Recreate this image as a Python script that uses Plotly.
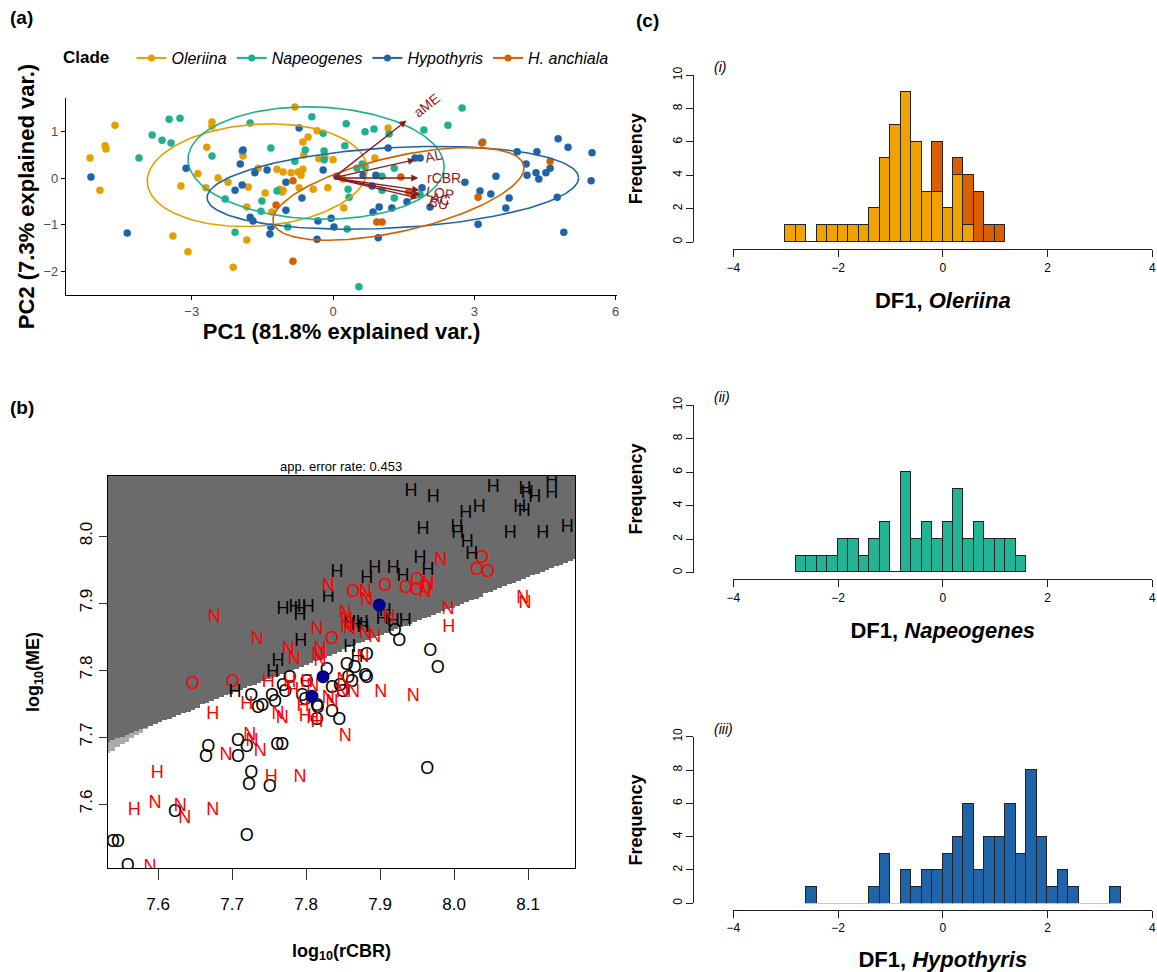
import numpy as np
import plotly.graph_objects as go

FONT = "Arial, Liberation Sans, sans-serif"
W, H = 1157, 972

# ---------------- Panel (a): PCA biplot ----------------
clades = ["Oleriina", "Napeogenes", "Hypothyris", "H. anchiala"]
clade_colors = ["#E69F00", "#1FB08E", "#1F63A8", "#D55E00"]

olr_pc1 = [-0.81, -4.63, -2.57, -2.57, -5.16, -4.84, -4.82, -4.95, -2.68, -2.87, -3.23, -2.44, -2.70, -2.23,
           -1.91, -1.80, -3.40, -3.08, -2.12, -1.83, -1.83, -1.59, -1.44, -1.19, -1.06, -1.13, -1.06, -1.30,
           -0.89, -0.74, -0.64, -0.72, -0.42, -0.62, -0.64, -0.53, -0.34, -0.30, -0.17, 0.00, -0.11, 0.21,
           0.23, 0.89, 1.17, -1.08, -0.68]
olr_pc2 = [1.52, 1.13, 1.20, 1.11, 0.43, 0.69, 0.62, -0.26, 0.66, 0.09, -0.17, 0.00, -0.21, -0.09,
           0.47, -0.19, -1.24, -1.58, -1.91, -1.33, -0.62, 0.21, -0.32, 0.19, 0.13, -0.24, -0.26, -0.73,
           0.11, 0.13, 0.19, -0.21, -0.24, 0.49, 0.77, 0.88, 1.01, 0.41, 0.45, 0.39, -0.21, -0.02,
           -0.64, 0.43, 1.07, -0.30, 0.06]

nap_pc1 = [-3.48, -3.25, -3.84, -3.63, -3.44, -4.12, -1.76, -2.57, -2.29, -2.08, -1.51, -1.53, -1.32, -1.19,
           -0.96, -0.81, -0.59, -0.45, -0.19, -0.21, 0.28, 0.25, 0.32, 0.34, 0.30, -1.93, 0.68, 0.87,
           1.19, 1.93, -0.19, 0.51, 0.62, 0.68, 1.30, 1.04, 1.30, 1.85, 2.74, 2.44, 3.18, 0.55, 1.04]
nap_pc2 = [1.26, 1.28, 0.92, 0.81, 0.75, 0.43, 1.18, 0.47, -0.45, -1.16, -0.49, -0.71, 0.64, -0.28,
           -1.05, 0.36, 0.60, 1.31, 0.58, 0.96, 1.16, 0.69, -0.24, -0.41, -1.09, 0.58, 0.99, 1.05,
           0.94, 1.03, 0.39, 0.21, 0.30, 0.24, 0.21, -0.26, -0.43, -0.36, 1.50, 1.13, 0.77, -2.33, 0.04]

hyp_pc1 = [-5.14, -4.37, -3.12, -1.91, -1.97, -1.66, -1.40, -2.08, -1.93, -0.72, -1.00, -1.00, -0.66, -0.21,
           -1.76, -1.70, -1.32, -1.34, -0.32, -0.04, 0.02, -0.34, 0.08, 0.64, 0.91, 1.17, 0.85, 0.98,
           1.25, 1.57, 1.74, 1.85, 1.89, 2.06, 0.83, 2.80, 3.12, 3.35, 3.46, 3.74, 3.67, 3.08, 3.91,
           4.10, 4.12, 4.33, 4.31, 4.37, 4.52, 4.61, 4.78, 4.99, 4.76, 4.90, 5.50, 5.48, 0.96]
hyp_pc2 = [0.02, -1.18, 0.21, 0.60, 0.30, 0.11, 0.17, -0.26, -0.15, 1.07, -0.09, -0.69, -0.43, 0.17,
           -0.84, -0.92, -1.05, -1.20, -0.92, -0.86, -1.05, -1.31, 0.04, 0.06, 0.06, 0.64, -0.73, -0.62,
           -0.64, -0.51, 0.43, 0.43, -0.21, -0.62, -0.17, -0.09, -0.28, -0.34, 0.04, -0.43, -0.64, -0.99, 0.56,
           0.30, 0.06, 0.56, 0.11, -0.02, 0.11, 0.21, 0.84, 0.66, -0.41, -1.16, 0.54, -0.06, -1.28]

anc_pc1 = [-0.85, -1.21, -0.85, 3.16, 4.61, 1.44, 1.61, 3.08, 0.93, 1.04]
anc_pc2 = [-0.06, -0.58, -1.78, 0.75, 0.36, 0.02, -0.30, -0.41, -0.94, -0.94]

pc1_by_clade = [olr_pc1, nap_pc1, hyp_pc1, anc_pc1]
pc2_by_clade = [olr_pc2, nap_pc2, hyp_pc2, anc_pc2]

# normal-probability ellipses: centre, semi-axes, rotation (deg)
ell_cx = [-1.61, -0.36, 1.27, 1.39]
ell_cy = [0.06, 0.32, -0.21, -0.34]
ell_a = [2.34, 2.72, 3.95, 2.73]
ell_b = [1.09, 1.20, 0.86, 0.80]
ell_ang = [4.0, -2.0, 3.2, 13.0]

# variable loadings (arrows)
var_names = ["aME", "AL", "rCBR", "LOP", "AC", "BU"]
var_pc1 = [1.56, 1.74, 1.81, 1.83, 1.85, 1.80]
var_pc2 = [1.23, 0.39, 0.00, -0.26, -0.36, -0.43]
var_lab_dist = [0.55, 0.40, 0.55, 0.45, 0.45, 0.45]

# ---------------- Panel (b): partition plot ----------------
Hc_x = [7.942, 7.972, 8.053, 8.096, 8.099, 8.109, 8.132, 8.132, 8.034, 8.016, 8.089, 8.095, 7.958, 8.004,
        8.005, 8.018, 8.076, 8.120, 8.153, 8.024, 7.954, 7.965, 7.893, 7.918, 7.931, 7.882, 7.842, 7.830,
        7.769, 7.785, 7.792, 7.803, 7.792, 7.793, 7.907, 7.903, 7.934, 7.876, 7.859, 7.869, 7.877, 7.918,
        7.859, 7.869, 7.762, 7.755, 7.704]
Hc_y = [8.066, 8.057, 8.073, 8.070, 8.063, 8.057, 8.081, 8.064, 8.042, 8.034, 8.042, 8.036, 8.010, 8.012,
        8.004, 7.991, 8.004, 8.004, 8.012, 7.972, 7.967, 7.949, 7.952, 7.952, 7.939, 7.937, 7.946, 7.909,
        7.890, 7.893, 7.890, 7.893, 7.882, 7.843, 7.887, 7.875, 7.872, 7.870, 7.870, 7.867, 7.864, 7.872,
        7.833, 7.819, 7.812, 7.797, 7.767]
Hw_x = [7.993, 7.749, 7.674, 7.720, 7.778, 7.782, 7.801, 7.796, 7.799, 7.815, 7.809, 7.753, 7.599, 7.568]
Hw_y = [7.864, 7.781, 7.733, 7.748, 7.782, 7.770, 7.782, 7.745, 7.730, 7.721, 7.728, 7.640, 7.646, 7.590]
N_x = [7.982, 7.992, 8.093, 8.096, 7.676, 7.734, 7.830, 7.815, 7.819, 7.776, 7.784, 7.816, 7.819, 7.853,
       7.855, 7.880, 7.882, 7.965, 7.961, 7.912, 7.855, 7.859, 7.880, 7.893, 7.877, 7.762, 7.768, 7.724,
       7.727, 7.738, 7.692, 7.792, 7.596, 7.630, 7.636, 7.674, 7.589, 7.853, 7.901, 7.945, 7.849, 7.864,
       7.830, 7.835, 7.809, 7.850]
N_y = [7.964, 7.891, 7.907, 7.900, 7.879, 7.845, 7.924, 7.860, 7.830, 7.830, 7.815, 7.822, 7.812, 7.885,
       7.864, 7.915, 7.904, 7.927, 7.916, 7.879, 7.876, 7.860, 7.855, 7.848, 7.819, 7.733, 7.728, 7.703,
       7.693, 7.678, 7.673, 7.639, 7.601, 7.596, 7.579, 7.590, 7.506, 7.701, 7.766, 7.760, 7.767, 7.767,
       7.758, 7.751, 7.775, 7.785]
Ow_x = [8.038, 8.031, 8.046, 7.950, 7.935, 7.950, 7.962, 7.907, 7.864, 7.835, 7.647, 7.701]
Ow_y = [7.967, 7.949, 7.946, 7.934, 7.922, 7.919, 7.922, 7.924, 7.916, 7.846, 7.778, 7.782]
Oc_x = [7.920, 7.926, 7.968, 7.978, 7.855, 7.866, 7.882, 7.880, 7.882, 7.857, 7.862, 7.846, 7.835, 7.850,
        7.835, 7.845, 7.816, 7.799, 7.801, 7.828, 7.815, 7.815, 7.795, 7.778, 7.769, 7.772, 7.754, 7.758,
        7.726, 7.741, 7.735, 7.668, 7.665, 7.708, 7.708, 7.720, 7.761, 7.768, 7.726, 7.723, 7.751, 7.964,
        7.623, 7.720, 7.539, 7.546, 7.559]
Oc_y = [7.857, 7.842, 7.828, 7.803, 7.807, 7.803, 7.822, 7.790, 7.787, 7.788, 7.781, 7.776, 7.772, 7.767,
        7.737, 7.725, 7.743, 7.755, 7.782, 7.800, 7.745, 7.725, 7.760, 7.788, 7.775, 7.767, 7.760, 7.752,
        7.760, 7.745, 7.743, 7.685, 7.669, 7.693, 7.669, 7.685, 7.687, 7.687, 7.646, 7.628, 7.625, 7.651,
        7.587, 7.552, 7.542, 7.542, 7.507]
mean_x = [7.899, 7.823, 7.808]
mean_y = [7.897, 7.790, 7.761]

# decision boundaries (from the plotted partition): H|O line and N|O line
bnd_x0 = 7.5324
bnd_HO = (7.6925, 0.433)
bnd_NO = (7.676, 0.692)

# ---------------- Panel (c): DF1 histograms (bin width 0.2) ----------------
olr_start = -3.0
olr_counts = [1, 1, 0, 1, 1, 1, 1, 1, 2, 5, 7, 9, 6, 3, 3, 2, 4, 1, 0, 0, 0]
anc_counts = [0, 0, 0, 0, 0, 0, 0, 0, 0, 0, 0, 0, 0, 0, 3, 0, 1, 3, 3, 1, 1]
nap_start = -2.8
nap_counts = [1, 1, 1, 1, 2, 2, 1, 2, 3, 0, 6, 2, 3, 2, 3, 5, 2, 3, 2, 2, 2, 1]
hyp_start = -2.6
hyp_counts = [1, 0, 0, 0, 0, 0, 1, 3, 0, 2, 1, 2, 2, 3, 4, 6, 2, 4, 4, 6, 3, 8, 4, 1, 2, 1,
              0, 0, 0, 1]

fig = go.Figure()

# ---- (a) traces
xa, ya = "x", "y"
for i, c in enumerate(clades):
    fig.add_trace(go.Scatter(x=pc1_by_clade[i], y=pc2_by_clade[i], mode="markers",
                             marker=dict(color=clade_colors[i], size=7.5),
                             xaxis=xa, yaxis=ya, showlegend=False, hoverinfo="skip"))
for i, c in enumerate(clades):
    t = np.linspace(0, 2 * np.pi, 200)
    th = np.deg2rad(ell_ang[i])
    ex = ell_cx[i] + ell_a[i] * np.cos(t) * np.cos(th) - ell_b[i] * np.sin(t) * np.sin(th)
    ey = ell_cy[i] + ell_a[i] * np.cos(t) * np.sin(th) + ell_b[i] * np.sin(t) * np.cos(th)
    fig.add_trace(go.Scatter(x=ex, y=ey, mode="lines", line=dict(color=clade_colors[i], width=1.6),
                             xaxis=xa, yaxis=ya, showlegend=False, hoverinfo="skip"))
for i, c in enumerate(clades):
    fig.add_trace(go.Scatter(x=[None], y=[None], mode="lines+markers", name="<i>%s</i>" % c,
                             line=dict(color=clade_colors[i], width=2),
                             marker=dict(color=clade_colors[i], size=7), xaxis=xa, yaxis=ya))

annotations = []
arrow_col = "#8B1A1A"
for n, vx, vy, dd in zip(var_names, var_pc1, var_pc2, var_lab_dist):
    annotations.append(dict(x=vx, y=vy, ax=0, ay=0, xref="x", yref="y", axref="x", ayref="y",
                            showarrow=True, arrowhead=2, arrowsize=1, arrowwidth=1.4,
                            arrowcolor=arrow_col, text=""))
    ang = np.degrees(np.arctan2(vy, vx))
    d = np.hypot(vx, vy)
    lx = vx + dd * vx / d
    ly = vy + dd * vy / d
    annotations.append(dict(x=lx, y=ly, xref="x", yref="y", text=n, showarrow=False,
                            textangle=-ang, font=dict(family=FONT, size=14, color=arrow_col)))

# ---- (b) traces
nx, ny = 100, 220
gx = np.linspace(7.5324, 8.1635, nx)
gy = np.linspace(7.5045, 8.0896, ny)
GX, GY = np.meshgrid(gx, gy)
lineHO = bnd_HO[0] + bnd_HO[1] * (GX - bnd_x0)
lineNO = bnd_NO[0] + bnd_NO[1] * (GX - bnd_x0)
Z = np.where(GY > lineHO, 2, np.where(GY > lineNO, 1, 0))
fig.add_trace(go.Heatmap(x=gx, y=gy, z=Z, xaxis="x2", yaxis="y2", showscale=False, hoverinfo="skip",
                         zmin=0, zmax=2,
                         colorscale=[[0, "#FFFFFF"], [0.33, "#FFFFFF"], [0.34, "#ABABAB"],
                                     [0.66, "#ABABAB"], [0.67, "#6B6B6B"], [1, "#6B6B6B"]]))
letter_sets = [(Oc_x, Oc_y, "O", "black"), (Ow_x, Ow_y, "O", "red"), (Hc_x, Hc_y, "H", "black"),
               (Hw_x, Hw_y, "H", "red"), (N_x, N_y, "N", "red")]
for lx_, ly_, lab, col in letter_sets:
    fig.add_trace(go.Scatter(x=lx_, y=ly_, mode="text", text=[lab] * len(lx_),
                             textfont=dict(family=FONT, size=18, color=col), xaxis="x2", yaxis="y2",
                             showlegend=False, hoverinfo="skip", cliponaxis=True))
fig.add_trace(go.Scatter(x=mean_x, y=mean_y, mode="markers", marker=dict(color="#00008B", size=13),
                         xaxis="x2", yaxis="y2", showlegend=False, hoverinfo="skip"))

# ---- (c) traces
def centers(start, n):
    return [round(start + 0.2 * k + 0.1, 2) for k in range(n)]

bar_line = dict(color="#222222", width=1)
fig.add_trace(go.Bar(x=centers(olr_start, len(olr_counts)), y=olr_counts, width=0.2,
                     marker=dict(color="#F0A202", line=bar_line),
                     xaxis="x3", yaxis="y3", showlegend=False, hoverinfo="skip"))
fig.add_trace(go.Bar(x=centers(olr_start, len(anc_counts)), y=anc_counts, width=0.2,
                     marker=dict(color="#D95F02", line=bar_line),
                     xaxis="x3", yaxis="y3", showlegend=False, hoverinfo="skip"))
fig.add_trace(go.Bar(x=centers(nap_start, len(nap_counts)), y=nap_counts, width=0.2,
                     marker=dict(color="#22B494", line=bar_line),
                     xaxis="x4", yaxis="y4", showlegend=False, hoverinfo="skip"))
fig.add_trace(go.Bar(x=centers(hyp_start, len(hyp_counts)), y=hyp_counts, width=0.2,
                     marker=dict(color="#1F63A8", line=bar_line),
                     xaxis="x5", yaxis="y5", showlegend=False, hoverinfo="skip"))

def px(v):
    return v / W

def py(v):
    return 1 - v / H

tickfont_a = dict(family=FONT, size=13, color="#4D4D4D")
layout = dict(
    width=W, height=H, margin=dict(l=0, r=0, t=0, b=0, autoexpand=False), paper_bgcolor="white",
    plot_bgcolor="white", barmode="stack", bargap=0, showlegend=True,
    legend=dict(orientation="h", x=px(61), y=py(41), xanchor="left", yanchor="top", traceorder="normal",
                title=dict(text="<b>Clade</b>&nbsp;&nbsp;&nbsp;", font=dict(family=FONT, size=17, color="black")),
                font=dict(family=FONT, size=16, color="black"), itemwidth=30, bgcolor="rgba(0,0,0,0)"),
    xaxis=dict(domain=[px(66), px(617)], range=[-5.67, 6.03], anchor="y", showline=True, linecolor="black",
               linewidth=1.3, ticks="outside", ticklen=4, tickcolor="black", tickvals=[-3, 0, 3, 6],
               tickfont=tickfont_a, showgrid=False, zeroline=False, automargin=False,
               title=dict(text="<b>PC1 (81.8% explained var.)</b>", font=dict(family=FONT, size=22, color="black"),
                          standoff=3)),
    yaxis=dict(domain=[py(295), py(98)], range=[-2.505, 1.713], anchor="x", showline=True, linecolor="black",
               linewidth=1.3, ticks="outside", ticklen=4, tickcolor="black", tickvals=[-2, -1, 0, 1],
               tickfont=tickfont_a, showgrid=False, zeroline=False, automargin=False,
               title=dict(text="<b>PC2 (7.3% explained var.)</b>", font=dict(family=FONT, size=22, color="black"),
                          standoff=2)),
    xaxis2=dict(domain=[px(108), px(575)], range=[7.5324, 8.1635], anchor="y2", showline=True, mirror=True,
                linecolor="black", linewidth=1, ticks="outside", ticklen=11, tickcolor="#333",
                ticklabelstandoff=10,
                tickvals=[7.6, 7.7, 7.8, 7.9, 8.0, 8.1], ticktext=["7.6", "7.7", "7.8", "7.9", "8.0", "8.1"],
                tickfont=dict(family=FONT, size=17, color="black"), showgrid=False, zeroline=False,
                automargin=False,
                title=dict(text="<b>log<sub>10</sub>(rCBR)</b>", font=dict(family=FONT, size=18, color="black"),
                           standoff=30)),
    yaxis2=dict(domain=[py(868), py(476)], range=[7.5045, 8.0896], anchor="x2", showline=True, mirror=True,
                linecolor="black", linewidth=1, ticks="outside", ticklen=8, tickcolor="#333",
                tickvals=[7.6, 7.7, 7.8, 7.9, 8.0], ticktext=["7.6", "7.7", "7.8", "7.9", "8.0"],
                tickangle=-90, tickfont=dict(family=FONT, size=17, color="black"), showgrid=False,
                zeroline=False, automargin=False,
                title=dict(text="<b>log<sub>10</sub>(ME)</b>", font=dict(family=FONT, size=18, color="black"),
                           standoff=32)),
)

hist_specs = [("x3", "y3", 75.3, 242.0, 249.3, "Oleriina", "(i)"),
              ("x4", "y4", 405.3, 572.7, 579.3, "Napeogenes", "(ii)"),
              ("x5", "y5", 736.7, 903.3, 910.0, "Hypothyris", "(iii)")]
for xn, yn, ytop, ybot, xline, lab, roman in hist_specs:
    kx = "xaxis" + xn[1:]
    ky = "yaxis" + yn[1:]
    layout[kx] = dict(domain=[px(733.3), px(1152.3)], range=[-4, 4], anchor="free", position=py(xline),
                      showline=True, linecolor="#222", linewidth=1, ticks="outside", ticklen=7,
                      tickcolor="#222", tickvals=[-4, -2, 0, 2, 4], tickfont=dict(family=FONT, size=12, color="black"),
                      showgrid=False, zeroline=False, automargin=False,
                      title=dict(text="<b>DF1, <i>%s</i></b>" % lab, font=dict(family=FONT, size=22, color="black"),
                                 standoff=18))
    layout[ky] = dict(domain=[py(ybot), py(ytop)], range=[0, 10], anchor="free", position=px(693.3),
                      showline=True, linecolor="#222", linewidth=1, ticks="outside", ticklen=7,
                      tickcolor="#222", tickvals=[0, 2, 4, 6, 8, 10], tickangle=-90, automargin=False,
                      tickfont=dict(family=FONT, size=12, color="black"), showgrid=False, zeroline=False,
                      title=dict(text="<b>Frequency</b>", font=dict(family=FONT, size=18, color="black"),
                                 standoff=22))
    annotations.append(dict(x=px(712), y=py(ytop - 8), xref="paper", yref="paper", text="<i>%s</i>" % roman,
                            showarrow=False, xanchor="left", yanchor="middle",
                            font=dict(family=FONT, size=14, color="black")))

annotations += [
    dict(x=px(8), y=py(18), xref="paper", yref="paper", text="<b>(a)</b>", showarrow=False, xanchor="left",
         yanchor="middle", font=dict(family=FONT, size=19, color="black")),
    dict(x=px(8), y=py(407), xref="paper", yref="paper", text="<b>(b)</b>", showarrow=False, xanchor="left",
         yanchor="middle", font=dict(family=FONT, size=19, color="black")),
    dict(x=px(634), y=py(20), xref="paper", yref="paper", text="<b>(c)</b>", showarrow=False, xanchor="left",
         yanchor="middle", font=dict(family=FONT, size=19, color="black")),
    dict(x=px(341), y=py(466), xref="paper", yref="paper", text="app. error rate: 0.453", showarrow=False,
         xanchor="center", yanchor="middle", font=dict(family=FONT, size=13, color="black")),
]
layout["annotations"] = annotations
fig.update_layout(**layout)
fig.write_html("out.html", config={"displayModeBar": False},
               post_script="document.body.style.margin='0px';document.body.style.overflow='hidden';")
